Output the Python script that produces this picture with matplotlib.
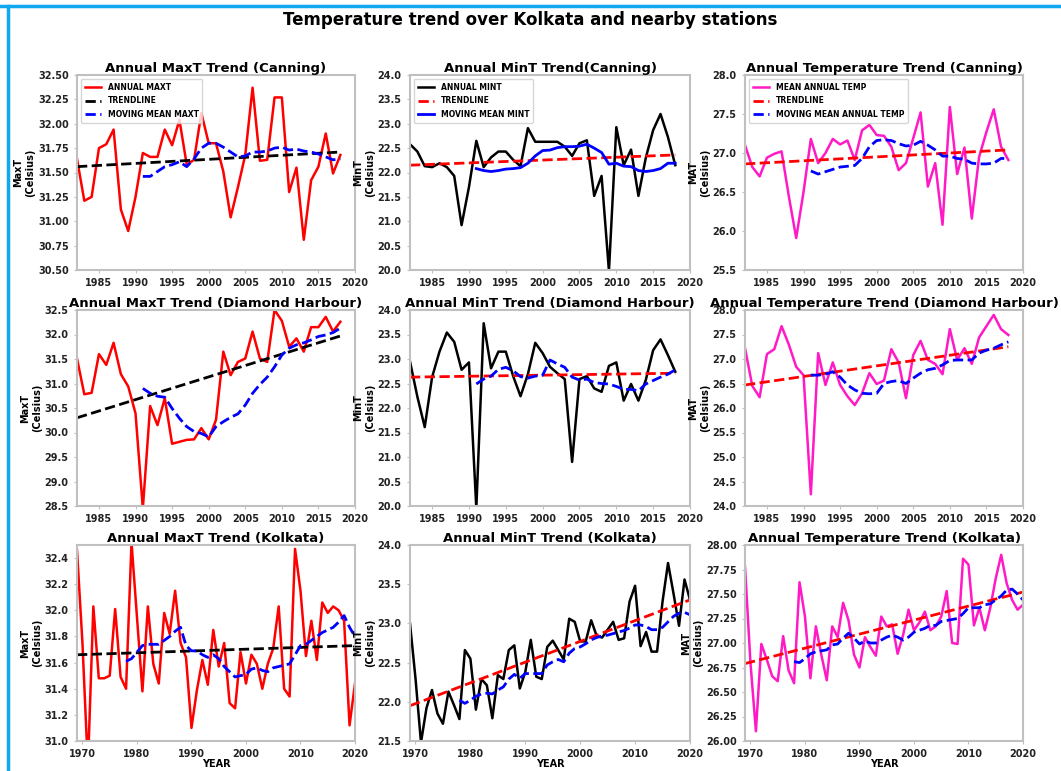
import numpy as np
import matplotlib
matplotlib.use('Agg')
import matplotlib.pyplot as plt
from matplotlib.lines import Line2D

plt.rcParams['font.family'] = ['DejaVu Sans']
plt.rcParams['font.weight'] = 'bold'
plt.rcParams['axes.titleweight'] = 'bold'
plt.rcParams['axes.labelweight'] = 'bold'

# Years covered by each station
years_short = np.arange(1982, 2019)    # Canning, Diamond Harbour
mm_years_short = np.arange(1991, 2019)
years_kol = np.arange(1969, 2021)      # Kolkata
mm_years_kol = np.arange(1978, 2021)

# Canning
can_maxt = [31.64, 31.21, 31.25, 31.75, 31.79, 31.94, 31.12, 30.90, 31.25, 31.70,
            31.66, 31.66, 31.94, 31.78, 32.04, 31.58, 31.63, 32.11, 31.80, 31.80,
            31.51, 31.04, 31.35, 31.68, 32.37, 31.62, 31.63, 32.27, 32.27, 31.30,
            31.55, 30.81, 31.42, 31.56, 31.90, 31.49, 31.68]
can_maxt_mm = [31.46, 31.46, 31.51, 31.56, 31.58, 31.61, 31.56, 31.64, 31.75, 31.80,
               31.80, 31.76, 31.71, 31.66, 31.67, 31.71, 31.71, 31.72, 31.75, 31.76,
               31.73, 31.74, 31.72, 31.71, 31.69, 31.66, 31.63, 31.64]
can_maxt_trend = [31.56, 31.71]

can_mint = [22.58, 22.43, 22.13, 22.11, 22.19, 22.11, 21.93, 20.92, 21.70, 22.65,
            22.11, 22.31, 22.43, 22.43, 22.26, 22.13, 22.91, 22.63, 22.63, 22.63,
            22.63, 22.53, 22.34, 22.60, 22.66, 21.52, 21.93, 19.98, 22.93, 22.15,
            22.47, 21.52, 22.30, 22.87, 23.20, 22.73, 22.15]
can_mint_mm = [22.08, 22.04, 22.02, 22.04, 22.07, 22.08, 22.10, 22.19, 22.34, 22.45,
               22.46, 22.51, 22.53, 22.53, 22.54, 22.58, 22.50, 22.41, 22.17, 22.19,
               22.13, 22.12, 22.04, 22.02, 22.04, 22.08, 22.19, 22.19]
can_mint_trend = [22.15, 22.36]

can_mat = [27.10, 26.82, 26.70, 26.94, 26.99, 27.02, 26.44, 25.91, 26.50, 27.18,
           26.87, 27.00, 27.18, 27.11, 27.16, 26.91, 27.29, 27.36, 27.23, 27.22,
           27.08, 26.78, 26.87, 27.19, 27.52, 26.57, 26.87, 26.08, 27.59, 26.73,
           27.07, 26.16, 26.95, 27.27, 27.56, 27.08, 26.91]
can_mat_mm = [26.77, 26.73, 26.76, 26.79, 26.82, 26.83, 26.84, 26.93, 27.08, 27.16,
              27.17, 27.16, 27.12, 27.09, 27.10, 27.15, 27.10, 27.04, 26.96, 26.96,
              26.93, 26.92, 26.87, 26.86, 26.86, 26.87, 26.93, 26.93]
can_mat_trend = [26.86, 27.04]

# Diamond Harbour
dh_maxt = [31.51, 30.78, 30.81, 31.60, 31.38, 31.83, 31.19, 30.94, 30.39, 28.45,
           30.54, 30.15, 30.70, 29.77, 29.81, 29.85, 29.86, 30.09, 29.86, 30.26,
           31.65, 31.17, 31.44, 31.51, 32.06, 31.51, 31.44, 32.50, 32.28, 31.75,
           31.92, 31.65, 32.15, 32.15, 32.36, 32.06, 32.26]
dh_maxt_mm = [30.90, 30.80, 30.74, 30.72, 30.49, 30.29, 30.12, 30.02, 29.98, 29.91,
              30.12, 30.22, 30.31, 30.38, 30.56, 30.80, 30.98, 31.13, 31.34, 31.58,
              31.72, 31.79, 31.83, 31.89, 31.96, 31.99, 32.04, 32.13]
dh_maxt_trend = [30.30, 31.97]

dh_mint = [22.95, 22.23, 21.61, 22.63, 23.15, 23.54, 23.35, 22.78, 22.93, 19.95,
           23.73, 22.81, 23.15, 23.15, 22.65, 22.24, 22.69, 23.33, 23.12, 22.84,
           22.71, 22.59, 20.90, 22.59, 22.65, 22.40, 22.33, 22.86, 22.93, 22.15,
           22.49, 22.15, 22.57, 23.18, 23.40, 23.08, 22.74]
dh_mint_mm = [22.49, 22.59, 22.65, 22.79, 22.83, 22.76, 22.64, 22.61, 22.65, 22.67,
              22.98, 22.90, 22.83, 22.63, 22.57, 22.59, 22.52, 22.50, 22.49, 22.44,
              22.38, 22.38, 22.35, 22.49, 22.56, 22.63, 22.69, 22.78]
dh_mint_trend = [22.63, 22.71]

dh_mat = [27.22, 26.45, 26.22, 27.10, 27.20, 27.67, 27.29, 26.84, 26.67, 24.24,
          27.12, 26.47, 26.93, 26.47, 26.24, 26.06, 26.30, 26.71, 26.49, 26.56,
          27.20, 26.93, 26.20, 27.08, 27.37, 26.98, 26.90, 26.69, 27.61, 26.98,
          27.22, 26.90, 27.44, 27.67, 27.90, 27.61, 27.49]
dh_mat_mm = [26.67, 26.67, 26.69, 26.74, 26.63, 26.47, 26.37, 26.30, 26.29, 26.30,
             26.50, 26.54, 26.56, 26.50, 26.61, 26.71, 26.78, 26.81, 26.88, 26.97,
             26.98, 26.98, 26.98, 27.12, 27.18, 27.22, 27.29, 27.35]
dh_mat_trend = [26.47, 27.25]

# Kolkata
kol_maxt = [32.46, 31.75, 30.80, 32.03, 31.48, 31.48, 31.50, 32.01, 31.49, 31.40,
            32.52, 31.95, 31.38, 32.03, 31.59, 31.44, 31.98, 31.82, 32.15, 31.75,
            31.64, 31.10, 31.39, 31.62, 31.43, 31.85, 31.57, 31.75, 31.29, 31.25,
            31.68, 31.44, 31.66, 31.59, 31.40, 31.59, 31.71, 32.03, 31.40, 31.34,
            32.47, 32.15, 31.65, 31.92, 31.62, 32.06, 31.98, 32.03, 32.00, 31.92,
            31.12, 31.44]
kol_maxt_mm = [31.61, 31.63, 31.68, 31.73, 31.74, 31.74, 31.74, 31.77, 31.80, 31.84,
               31.87, 31.73, 31.69, 31.69, 31.66, 31.64, 31.66, 31.63, 31.57, 31.53,
               31.49, 31.50, 31.51, 31.55, 31.56, 31.54, 31.53, 31.56, 31.57, 31.58,
               31.59, 31.66, 31.73, 31.74, 31.77, 31.80, 31.83, 31.85, 31.87, 31.91,
               31.96, 31.87, 31.80]
kol_maxt_trend = [31.66, 31.73]

kol_mint = [23.00, 22.30, 21.48, 21.92, 22.15, 21.85, 21.72, 22.13, 21.96, 21.78,
            22.66, 22.55, 21.90, 22.29, 22.21, 21.79, 22.34, 22.29, 22.66, 22.72,
            22.17, 22.38, 22.79, 22.32, 22.29, 22.70, 22.78, 22.66, 22.54, 23.06,
            23.02, 22.77, 22.77, 23.04, 22.84, 22.82, 22.92, 23.02, 22.79, 22.81,
            23.28, 23.48, 22.71, 22.89, 22.64, 22.64, 23.28, 23.77, 23.38, 22.97,
            23.56, 23.30]
kol_mint_mm = [22.02, 21.98, 22.02, 22.07, 22.10, 22.11, 22.10, 22.15, 22.19, 22.29,
               22.35, 22.30, 22.36, 22.36, 22.36, 22.36, 22.47, 22.51, 22.54, 22.51,
               22.62, 22.68, 22.70, 22.74, 22.79, 22.82, 22.84, 22.85, 22.87, 22.89,
               22.91, 22.94, 22.98, 22.98, 22.96, 22.92, 22.92, 22.95, 23.02, 23.09,
               23.13, 23.14, 23.11]
kol_mint_trend = [21.95, 23.30]

kol_mat = [27.78, 26.80, 26.10, 26.99, 26.83, 26.66, 26.61, 27.07, 26.72, 26.59,
           27.62, 27.27, 26.64, 27.17, 26.88, 26.62, 27.17, 27.06, 27.41, 27.23,
           26.88, 26.75, 27.06, 26.96, 26.87, 27.27, 27.17, 27.19, 26.89, 27.08,
           27.34, 27.13, 27.21, 27.32, 27.13, 27.17, 27.27, 27.53, 27.00, 26.99,
           27.86, 27.80, 27.18, 27.36, 27.13, 27.36, 27.66, 27.90, 27.61, 27.44,
           27.34, 27.39]
kol_mat_mm = [26.81, 26.80, 26.84, 26.89, 26.91, 26.92, 26.93, 26.98, 26.99, 27.05,
              27.10, 27.05, 26.99, 27.02, 27.00, 27.00, 27.03, 27.06, 27.08, 27.06,
              27.03, 27.06, 27.11, 27.13, 27.15, 27.18, 27.18, 27.22, 27.23, 27.24,
              27.25, 27.30, 27.36, 27.36, 27.36, 27.39, 27.40, 27.44, 27.48, 27.54,
              27.55, 27.50, 27.44]
kol_mat_trend = [26.79, 27.52]

MAGENTA = '#ff1ac6'
SPINE = '#c0c0c0'

fig = plt.figure(figsize=(10.61, 7.71), dpi=100)
W, H = 1061, 771

# blue border along top and left of the sheet
fig.add_artist(Line2D([0, 1], [1 - 6 / H, 1 - 6 / H], transform=fig.transFigure,
                      color='#10a8ee', lw=2.5))
fig.add_artist(Line2D([7.5 / W, 7.5 / W], [0, 1 - 6 / H], transform=fig.transFigure,
                      color='#10a8ee', lw=2.5))

fig.suptitle('Temperature trend over Kolkata and nearby stations',
             fontsize=12, fontweight='bold', x=530 / W, y=1 - 11 / H, va='top')

cols = [(77, 355), (410, 690), (745, 1023)]
rows = [(75, 270), (310, 506), (545, 741)]


def make_ax(r, c):
    x0, x1 = cols[c]
    y0, y1 = rows[r]
    ax = fig.add_axes([x0 / W, 1 - y1 / H, (x1 - x0) / W, (y1 - y0) / H])
    for s in ax.spines.values():
        s.set_color(SPINE)
        s.set_linewidth(1.5)
    ax.tick_params(labelsize=7, colors='#222222', length=2.5, width=0.8)
    ax.tick_params(color=SPINE)
    for lab in ax.get_xticklabels() + ax.get_yticklabels():
        lab.set_fontweight('bold')
    return ax


stations = [
    # (row, station, years, mm_years, data...)
    dict(years=years_short, mm_years=mm_years_short, name='Canning',
         panels=[(can_maxt, can_maxt_mm, can_maxt_trend),
                 (can_mint, can_mint_mm, can_mint_trend),
                 (can_mat, can_mat_mm, can_mat_trend)],
         titles=['Annual MaxT Trend (Canning)', 'Annual MinT Trend(Canning)',
                 'Annual Temperature Trend (Canning)'],
         ylims=[(30.5, 32.5), (20.0, 24.0), (25.5, 28.0)],
         ysteps=[0.25, 0.5, 0.5], yfmt=['%.2f', '%.1f', '%.1f'],
         xticks=np.arange(1985, 2021, 5)),
    dict(years=years_short, mm_years=mm_years_short, name='Diamond Harbour',
         panels=[(dh_maxt, dh_maxt_mm, dh_maxt_trend),
                 (dh_mint, dh_mint_mm, dh_mint_trend),
                 (dh_mat, dh_mat_mm, dh_mat_trend)],
         titles=['Annual MaxT Trend (Diamond Harbour)', 'Annual MinT Trend (Diamond Harbour)',
                 'Annual Temperature Trend (Diamond Harbour)'],
         ylims=[(28.5, 32.5), (20.0, 24.0), (24.0, 28.0)],
         ysteps=[0.5, 0.5, 0.5], yfmt=['%.1f', '%.1f', '%.1f'],
         xticks=np.arange(1985, 2021, 5)),
    dict(years=years_kol, mm_years=mm_years_kol, name='Kolkata',
         panels=[(kol_maxt, kol_maxt_mm, kol_maxt_trend),
                 (kol_mint, kol_mint_mm, kol_mint_trend),
                 (kol_mat, kol_mat_mm, kol_mat_trend)],
         titles=['Annual MaxT Trend (Kolkata)', 'Annual MinT Trend (Kolkata)',
                 'Annual Temperature Trend (Kolkata)'],
         ylims=[(31.0, 32.5), (21.5, 24.0), (26.0, 28.0)],
         ysteps=[0.2, 0.5, 0.25], yfmt=['%.1f', '%.1f', '%.2f'],
         xticks=np.arange(1970, 2021, 10)),
]

ylabels = ['MaxT\n(Celsius)', 'MinT\n(Celsius)', 'MAT\n(Celsius)']
main_colors = ['red', 'black', MAGENTA]
trend_colors = ['black', 'red', 'red']
mm_styles = ['--', '-', '--']
legend_labels = [['ANNUAL MAXT', 'TRENDLINE', 'MOVING MEAN MAXT'],
                 ['ANNUAL MINT', 'TRENDLINE', 'MOVING MEAN MINT'],
                 ['MEAN ANNUAL TEMP', 'TRENDLINE', 'MOVING MEAN ANNUAL TEMP']]

for r, st in enumerate(stations):
    yrs = st['years']
    for c, (vals, mm, trend) in enumerate(st['panels']):
        ax = make_ax(r, c)
        ax.plot(yrs, vals, color=main_colors[c], lw=1.8, label=legend_labels[c][0])
        ax.plot([yrs[0], yrs[-1]], trend, color=trend_colors[c], lw=2, ls='--',
                label=legend_labels[c][1])
        ax.plot(st['mm_years'], mm, color='blue', lw=2, ls=mm_styles[r == 0 and c == 1 and 1 or 0],
                label=legend_labels[c][2])
        lo, hi = st['ylims'][c]
        ax.set_ylim(lo, hi)
        ax.set_yticks(np.arange(lo, hi + 1e-6, st['ysteps'][c]))
        ax.yaxis.set_major_formatter(matplotlib.ticker.FormatStrFormatter(st['yfmt'][c]))
        ax.set_xlim(yrs[0], 2020)
        ax.set_xticks(st['xticks'])
        for lab in ax.get_xticklabels() + ax.get_yticklabels():
            lab.set_fontweight('bold')
        ax.set_title(st['titles'][c], fontsize=9.5, fontweight='bold', pad=2)
        ax.set_ylabel(ylabels[c], fontsize=7, fontweight='bold', labelpad=2)
        if r == 2:
            ax.set_xlabel('YEAR', fontsize=7, fontweight='bold', labelpad=0)
        if r == 0:
            leg = ax.legend(loc='upper left', fontsize=5.5, prop={'weight': 'bold', 'size': 5.5},
                            handlelength=2.2, borderpad=0.5, labelspacing=0.6)
            leg.get_frame().set_edgecolor('#cccccc')

fig.savefig('out.png', dpi=100)
